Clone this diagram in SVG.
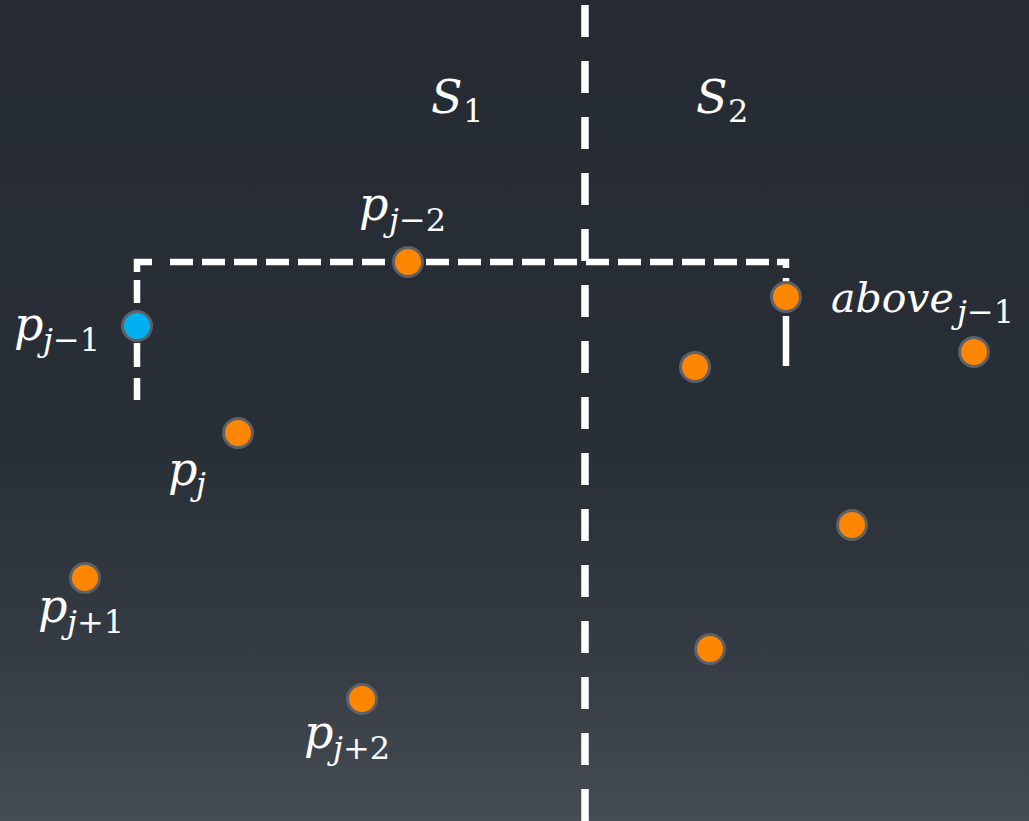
<svg xmlns="http://www.w3.org/2000/svg" width="1029" height="821" viewBox="0 0 1029 821">
<defs>
<linearGradient id="bg" x1="0" y1="0" x2="0" y2="1">
<stop offset="0" stop-color="#262b33"/>
<stop offset="0.55" stop-color="#292f37"/>
<stop offset="0.82" stop-color="#363d45"/>
<stop offset="1" stop-color="#454c54"/>
</linearGradient>
</defs>
<style>
.m{font-family:"DejaVu Serif","Liberation Serif",serif;font-style:italic;font-size:46px;fill:#ffffff}
.s{font-family:"DejaVu Serif","Liberation Serif",serif;font-style:italic;font-size:32px;fill:#ffffff}
.u{font-style:normal}
.dash{fill:none;stroke:#ffffff;stroke-width:6.5;stroke-dasharray:23 9}
.solid{fill:none;stroke:#ffffff;stroke-width:6.5}
.pt{fill:#ff8600;stroke:#5c6169;stroke-width:3}
.blue{fill:#00b0f0}
</style>
<rect width="1029" height="821" fill="url(#bg)"/>
<g id="connectors">
<line x1="585" y1="5" x2="585" y2="821" fill="none" stroke="#ffffff" stroke-width="7.5" stroke-dasharray="32 24"/>
<path class="solid" d="M137 400 V378 M137 367 V343 M137 303 V280 M137 272 V262 H152"/>
<line class="dash" x1="170" y1="262" x2="770" y2="262"/>
<path class="solid" d="M777 262 H786 V268 M786 278 V286 M786 316 V366"/>
</g>
<g id="label-S1"><text class="m" x="431" y="113">S</text><text class="s u" x="463" y="122">1</text></g>
<g id="label-S2"><text class="m" x="696" y="113">S</text><text class="s u" x="728" y="122">2</text></g>
<g id="node-pj-2"><circle class="pt" cx="408" cy="262" r="14.5"/><text class="m" x="359" y="220">p</text><text class="s" x="389" y="231">j<tspan class="u">−2</tspan></text></g>
<g id="node-pj-1"><circle class="pt blue" cx="137" cy="326" r="14.5"/><text class="m" x="14" y="340">p</text><text class="s" x="43" y="351">j<tspan class="u">−1</tspan></text></g>
<g id="node-pj"><circle class="pt" cx="238" cy="433" r="14.5"/><text class="m" x="168" y="485">p</text><text class="s" x="196" y="495">j</text></g>
<g id="node-pj+1"><circle class="pt" cx="85" cy="578" r="14.5"/><text class="m" x="38" y="622">p</text><text class="s" x="67" y="633">j<tspan class="u">+1</tspan></text></g>
<g id="node-pj+2"><circle class="pt" cx="362" cy="699" r="14.5"/><text class="m" x="304" y="748">p</text><text class="s" x="333" y="759">j<tspan class="u">+2</tspan></text></g>
<g id="node-above"><circle class="pt" cx="786" cy="297" r="14.5"/><text class="m" x="831" y="312" style="font-size:41px">above</text><text class="s" x="957" y="323">j<tspan class="u">−1</tspan></text></g>
<g id="node-r1"><circle class="pt" cx="695" cy="367" r="14.5"/></g>
<g id="node-r2"><circle class="pt" cx="974" cy="352" r="14.5"/></g>
<g id="node-r3"><circle class="pt" cx="852" cy="525" r="14.5"/></g>
<g id="node-r4"><circle class="pt" cx="710" cy="649" r="14.5"/></g>
</svg>
